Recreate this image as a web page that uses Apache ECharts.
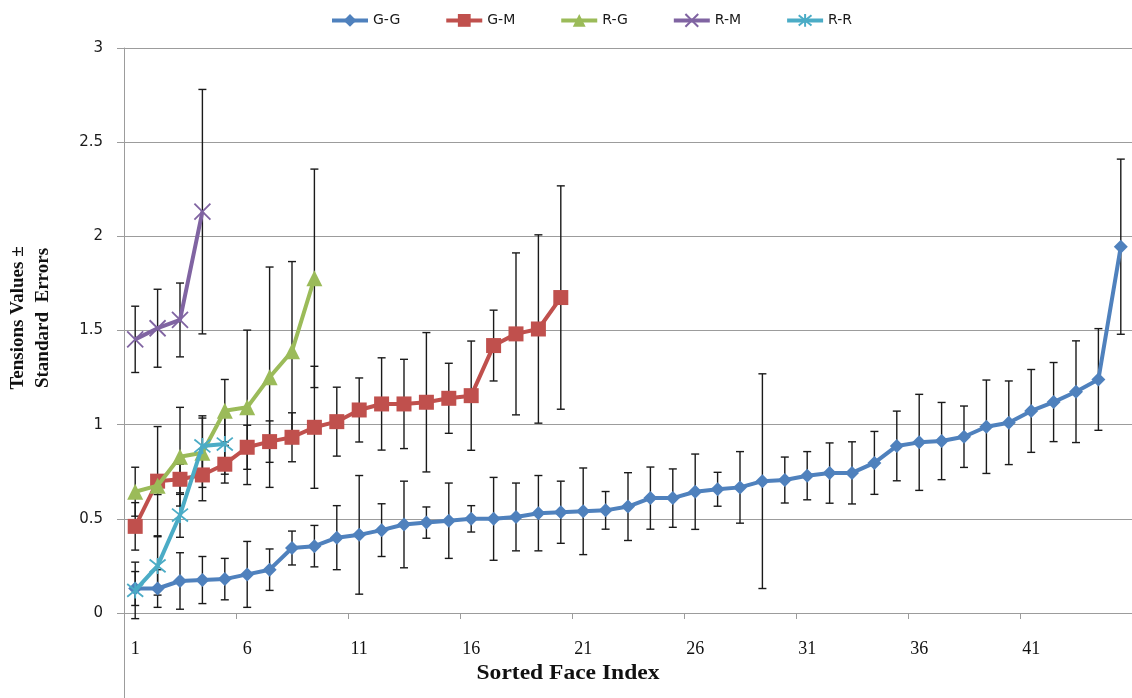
<!DOCTYPE html>
<html>
<head>
<meta charset="utf-8">
<title>Tensions Values by Sorted Face Index</title>
<script src="https://cdn.jsdelivr.net/npm/echarts@6/dist/echarts.min.js"></script>
<style>
  html, body { margin: 0; padding: 0; background: #ffffff; }
  #chart { width: 1132px; height: 698px; }
</style>
</head>
<body>
<div id="chart"></div>
<script>
// Sorted face index (x-axis categories)
const categories = ['1','2','3','4','5','6','7','8','9','10','11','12','13','14','15',
  '16','17','18','19','20','21','22','23','24','25','26','27','28','29','30',
  '31','32','33','34','35','36','37','38','39','40','41','42','43','44','45'];

// Tension values and their standard errors, one pair of arrays per group
const ggValues = [0.13, 0.13, 0.17, 0.175, 0.18, 0.205, 0.23, 0.345, 0.355, 0.40,
  0.415, 0.44, 0.47, 0.48, 0.49, 0.50, 0.50, 0.51, 0.53, 0.535,
  0.54, 0.545, 0.565, 0.61, 0.61, 0.644, 0.657, 0.667, 0.70, 0.706,
  0.729, 0.743, 0.744, 0.797, 0.887, 0.906, 0.913, 0.936, 0.989, 1.01,
  1.073, 1.12, 1.175, 1.24, 1.945];
const ggErrors = [0.09, 0.10, 0.15, 0.125, 0.11, 0.175, 0.11, 0.09, 0.11, 0.17,
  0.315, 0.14, 0.23, 0.083, 0.20, 0.07, 0.22, 0.18, 0.20, 0.165,
  0.23, 0.10, 0.18, 0.165, 0.155, 0.20, 0.09, 0.19, 0.57, 0.122,
  0.128, 0.16, 0.165, 0.167, 0.185, 0.255, 0.205, 0.163, 0.248, 0.222,
  0.22, 0.21, 0.27, 0.27, 0.465];

const gmValues = [0.46, 0.70, 0.71, 0.733, 0.79, 0.88, 0.91, 0.933, 0.986, 1.016,
  1.078, 1.11, 1.11, 1.119, 1.14, 1.154, 1.42, 1.482, 1.508, 1.675];
const gmErrors = [0.126, 0.29, 0.08, 0.137, 0.10, 0.117, 0.11, 0.13, 0.324, 0.183,
  0.17, 0.245, 0.237, 0.37, 0.186, 0.29, 0.188, 0.43, 0.50, 0.593];

const rgValues = [0.644, 0.676, 0.83, 0.851, 1.074, 1.092, 1.252, 1.39, 1.777];
const rgErrors = [0.13, 0.047, 0.262, 0.184, 0.166, 0.41, 0.585, 0.476, 0.58];

const rmValues = [1.453, 1.512, 1.556, 2.131];
const rmErrors = [0.176, 0.207, 0.196, 0.649];

const rrValues = [0.12, 0.25, 0.52, 0.887, 0.897];
const rrErrors = [0.15, 0.155, 0.118, 0.16, 0.16];

const yTicks = { min: 0, max: 3, interval: 0.5 };

const xTitle = 'Sorted Face Index';
const yTitle = 'Tensions Values \u00b1\nStandard  Errors';

const groups = [
  { name: 'G-G', values: ggValues, errors: ggErrors, color: '#4F81BD', symbol: 'diamond', size: 14 },
  { name: 'G-M', values: gmValues, errors: gmErrors, color: '#C0504D', symbol: 'rect', size: 15 },
  { name: 'R-G', values: rgValues, errors: rgErrors, color: '#9BBB59', symbol: 'triangle', size: 16 },
  { name: 'R-M', values: rmValues, errors: rmErrors, color: '#8064A2',
    symbol: 'path://M0,0L10,10M10,0L0,10', size: 16, stroke: true },
  { name: 'R-R', values: rrValues, errors: rrErrors, color: '#4BACC6',
    symbol: 'path://M1,1L9,9M9,1L1,9M5,0L5,10', size: 16, stroke: true }
];

const gridColor = '#9c9c9c';

// Vertical error bar with caps at value ± standard error
function errorBarRenderer(params, api) {
  const idx = api.value(0);
  const lowPt = api.coord([idx, api.value(1)]);
  const highPt = api.coord([idx, api.value(2)]);
  const cap = 4;
  const style = { stroke: '#1a1a1a', lineWidth: 1.4 };
  return {
    type: 'group',
    children: [
      { type: 'line', shape: { x1: highPt[0], y1: highPt[1], x2: lowPt[0], y2: lowPt[1] }, style: style },
      { type: 'line', shape: { x1: highPt[0] - cap, y1: highPt[1], x2: highPt[0] + cap, y2: highPt[1] }, style: style },
      { type: 'line', shape: { x1: lowPt[0] - cap, y1: lowPt[1], x2: lowPt[0] + cap, y2: lowPt[1] }, style: style }
    ]
  };
}

const series = [];
groups.forEach(function (g) {
  series.push({
    name: g.name + ' error',
    type: 'custom',
    renderItem: errorBarRenderer,
    encode: { x: 0, y: [1, 2] },
    data: g.values.map(function (v, i) { return [i, v - g.errors[i], v + g.errors[i]]; }),
    z: 1,
    silent: true
  });
});
groups.forEach(function (g, k) {
  series.push({
    name: g.name,
    type: 'line',
    data: g.values,
    symbol: g.symbol,
    symbolSize: g.size,
    showAllSymbol: true,
    lineStyle: { width: 4, color: g.color },
    itemStyle: g.stroke
      ? { color: g.color, borderColor: g.color, borderWidth: 1.8 }
      : { color: g.color },
    z: 2 + k,
    animation: false
  });
});

const chart = echarts.init(document.getElementById('chart'), null, { renderer: 'canvas' });
chart.setOption({
  animation: false,
  backgroundColor: '#ffffff',
  grid: { left: 124, right: 0, top: 48, bottom: 85, containLabel: false, outerBoundsMode: 'none' },
  legend: {
    data: groups.map(function (g) { return g.name; }),
    left: 325,
    top: 8,
    itemWidth: 36,
    itemHeight: 16,
    itemGap: 44,
    lineStyle: { width: 4 },
    textStyle: { fontFamily: 'DejaVu Sans', fontSize: 14, color: '#1a1a1a' }
  },
  xAxis: {
    type: 'category',
    data: categories,
    boundaryGap: true,
    axisLine: { show: true, lineStyle: { color: gridColor, width: 1 } },
    axisTick: { show: true, interval: 4, length: 6, lineStyle: { color: gridColor } },
    axisLabel: { interval: 4, margin: 27, fontFamily: 'Liberation Serif', fontSize: 18, color: '#111' },
    splitLine: { show: false }
  },
  yAxis: {
    type: 'value',
    min: yTicks.min,
    max: yTicks.max,
    interval: yTicks.interval,
    axisLine: { show: true, lineStyle: { color: gridColor, width: 1 } },
    axisTick: { show: true, length: 7, lineStyle: { color: gridColor } },
    axisLabel: { margin: 21, fontFamily: 'DejaVu Sans', fontSize: 15, color: '#1a1a1a' },
    splitLine: { show: true, lineStyle: { color: gridColor, width: 1 } }
  },
  graphic: [
    // plot-area border continuing below the category axis
    { type: 'line', shape: { x1: 124.5, y1: 613, x2: 124.5, y2: 698 },
      style: { stroke: gridColor, lineWidth: 1 }, silent: true },
    // axis titles
    { type: 'text', x: 568, y: 674, silent: true, scaleX: 1.12,
      style: { text: xTitle, fontFamily: 'Liberation Serif', fontWeight: 'bold', fontSize: 21,
        fill: '#111', align: 'center', verticalAlign: 'middle' } },
    { type: 'text', x: 31, y: 318, rotation: Math.PI / 2, silent: true,
      style: { text: yTitle, fontFamily: 'Liberation Serif', fontWeight: 'bold', fontSize: 19,
        lineHeight: 25, fill: '#111', align: 'center', verticalAlign: 'middle' } }
  ],
  series: series
});
</script>
</body>
</html>
